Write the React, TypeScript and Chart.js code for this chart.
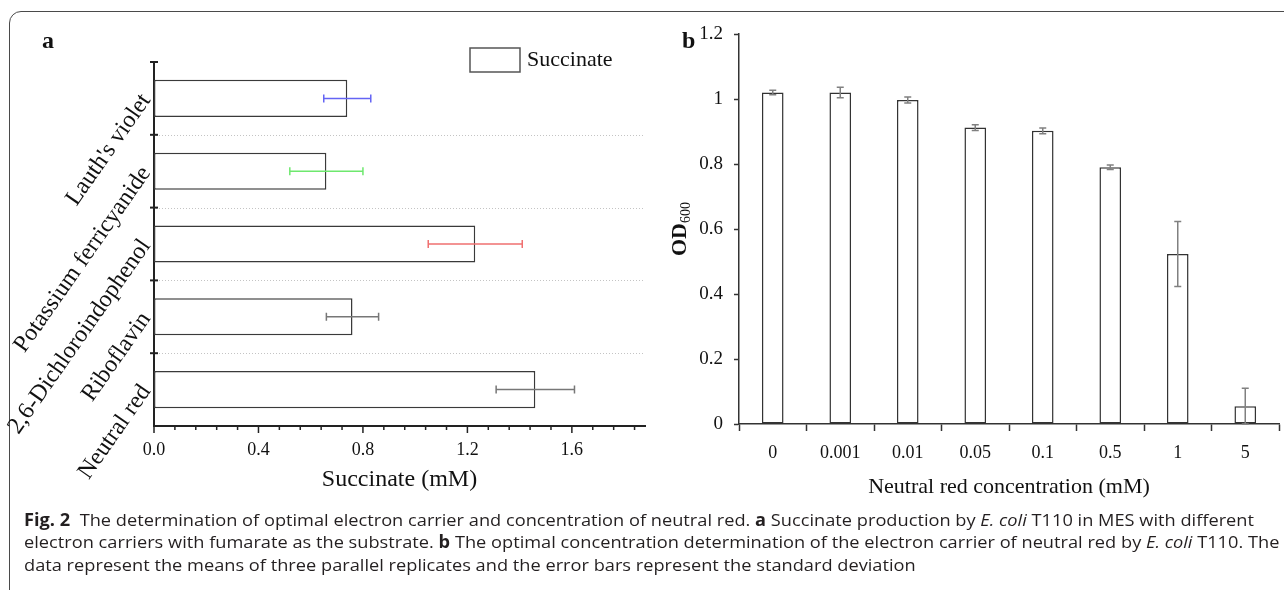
import React, { useEffect, useLayoutEffect, useRef } from 'react';
import { Chart, registerables } from 'chart.js';

Chart.register(...registerables);

// ---------- data ----------
const carriers = ["Lauth's violet", 'Potassium ferricyanide', '2,6-Dichloroindophenol', 'Riboflavin', 'Neutral red'];
const succinateMean = [0.74, 0.66, 1.23, 0.76, 1.46];
const succinateSD = [0.09, 0.14, 0.18, 0.1, 0.15];
const succinateErrColors = ['#6464f4', '#6ee86e', '#f07070', '#777777', '#777777'];
const succinateMajorStep = 0.4;
const succinateMinorStep = 0.08;
const succinateMax = 1.88;

const concentrations = ['0', '0.001', '0.01', '0.05', '0.1', '0.5', '1', '5'];
const od600Mean = [1.02, 1.02, 0.997, 0.912, 0.902, 0.79, 0.523, 0.055];
const od600SD = [0.007, 0.016, 0.009, 0.009, 0.009, 0.007, 0.1, 0.055];
const od600Max = 1.2;
const od600Step = 0.2;

const SERIF = "'Liberation Serif', 'Times New Roman', serif";
const SANS = "'Open Sans', 'Noto Sans', sans-serif";

// ---------- plugins ----------
function makeErrorBars(means: number[], sds: number[], colors: string[], cap: number, lw: number) {
  return {
    id: 'errorBars',
    afterDatasetsDraw(chart: any) {
      const meta = chart.getDatasetMeta(0);
      const ctx = chart.ctx as CanvasRenderingContext2D;
      const horizontal = chart.options.indexAxis === 'y';
      const vs = horizontal ? chart.scales.x : chart.scales.y;
      meta.data.forEach((el: any, i: number) => {
        const lo = vs.getPixelForValue(means[i] - sds[i]);
        const hi = vs.getPixelForValue(means[i] + sds[i]);
        ctx.save();
        ctx.strokeStyle = colors[i];
        ctx.lineWidth = lw;
        ctx.beginPath();
        if (horizontal) {
          const y = el.y;
          ctx.moveTo(lo, y); ctx.lineTo(hi, y);
          ctx.moveTo(lo, y - cap); ctx.lineTo(lo, y + cap);
          ctx.moveTo(hi, y - cap); ctx.lineTo(hi, y + cap);
        } else {
          const x = el.x;
          ctx.moveTo(x, lo); ctx.lineTo(x, hi);
          ctx.moveTo(x - cap, lo); ctx.lineTo(x + cap, lo);
          ctx.moveTo(x - cap, hi); ctx.lineTo(x + cap, hi);
        }
        ctx.stroke();
        ctx.restore();
      });
    },
  };
}

const panelADecor = {
  id: 'panelADecor',
  beforeDatasetsDraw(chart: any) {
    const ctx = chart.ctx as CanvasRenderingContext2D;
    const { left, right } = chart.chartArea;
    const ys = chart.scales.y;
    ctx.save();
    ctx.strokeStyle = '#c4c4c4';
    ctx.lineWidth = 1;
    ctx.setLineDash([1, 2]);
    for (let i = 1; i < carriers.length; i++) {
      const y = Math.round(ys.getPixelForValue(i - 0.5)) + 0.5;
      ctx.beginPath();
      ctx.moveTo(left + 2, y);
      ctx.lineTo(right, y);
      ctx.stroke();
    }
    ctx.restore();
  },
  afterDraw(chart: any) {
    const ctx = chart.ctx as CanvasRenderingContext2D;
    const { left, bottom } = chart.chartArea;
    const ys = chart.scales.y;
    const xs = chart.scales.x;
    ctx.save();
    // cross ticks on category axis
    ctx.strokeStyle = '#222';
    ctx.lineWidth = 2;
    for (let i = 0; i < carriers.length; i++) {
      const y = ys.getPixelForValue(i - 0.5);
      ctx.beginPath();
      ctx.moveTo(left - 4, y);
      ctx.lineTo(left + 4, y);
      ctx.stroke();
    }
    // value axis ticks
    ctx.lineWidth = 1.5;
    const nMinor = Math.floor(succinateMax / succinateMinorStep + 1e-6);
    const perMajor = Math.round(succinateMajorStep / succinateMinorStep);
    for (let k = 0; k <= nMinor; k++) {
      const x = xs.getPixelForValue(k * succinateMinorStep);
      const len = k % perMajor === 0 ? 7 : 4;
      ctx.beginPath();
      ctx.moveTo(x, bottom);
      ctx.lineTo(x, bottom + len);
      ctx.stroke();
    }
    // rotated category labels
    ctx.fillStyle = '#111';
    ctx.font = `24px ${SERIF}`;
    ctx.textAlign = 'right';
    ctx.textBaseline = 'middle';
    carriers.forEach((c, i) => {
      const y = ys.getPixelForValue(i);
      ctx.save();
      ctx.translate(left - 8, y - 2);
      ctx.rotate((-55 * Math.PI) / 180);
      ctx.fillText(c, 0, 0);
      ctx.restore();
    });
    // legend
    ctx.strokeStyle = '#555';
    ctx.lineWidth = 1.5;
    ctx.fillStyle = '#fff';
    ctx.fillRect(470, 48, 50, 24);
    ctx.strokeRect(470, 48, 50, 24);
    ctx.fillStyle = '#111';
    ctx.textAlign = 'left';
    ctx.textBaseline = 'middle';
    ctx.font = `22px ${SERIF}`;
    ctx.fillText('Succinate', 527, 60);
    // panel label
    ctx.font = `bold 24px ${SERIF}`;
    ctx.textBaseline = 'alphabetic';
    ctx.fillText('a', 42, 48);
    ctx.restore();
  },
};

const panelBDecor = {
  id: 'panelBDecor',
  afterDraw(chart: any) {
    const ctx = chart.ctx as CanvasRenderingContext2D;
    const { top, bottom } = chart.chartArea;
    ctx.save();
    ctx.fillStyle = '#111';
    ctx.font = `bold 24px ${SERIF}`;
    ctx.textAlign = 'left';
    ctx.textBaseline = 'alphabetic';
    ctx.fillText('b', 22, 48);
    // OD600 rotated title
    const cy = (top + bottom) / 2;
    ctx.translate(26, cy);
    ctx.rotate(-Math.PI / 2);
    ctx.font = `bold 22px ${SERIF}`;
    const w1 = ctx.measureText('OD').width;
    ctx.font = `14px ${SERIF}`;
    const w2 = ctx.measureText('600').width;
    const start = -(w1 + w2) / 2;
    ctx.font = `bold 22px ${SERIF}`;
    ctx.fillText('OD', start, 0);
    ctx.font = `14px ${SERIF}`;
    ctx.fillText('600', start + w1, 4);
    ctx.restore();
  },
};

// ---------- charts ----------
function PanelA() {
  const ref = useRef<HTMLCanvasElement>(null);
  useEffect(() => {
    if (!ref.current) return;
    const chart = new Chart(ref.current, {
      type: 'bar',
      data: {
        labels: carriers,
        datasets: [
          {
            label: 'Succinate',
            data: succinateMean,
            backgroundColor: '#ffffff',
            borderColor: '#3a3a3a',
            borderWidth: 1.5,
            borderSkipped: false,
            barPercentage: 0.51,
            categoryPercentage: 1,
          },
        ],
      },
      options: {
        indexAxis: 'y',
        animation: false,
        responsive: false,
        maintainAspectRatio: false,
        layout: { padding: { top: 62, right: 15, left: 0, bottom: 0 } },
        plugins: { legend: { display: false }, tooltip: { enabled: false } },
        scales: {
          x: {
            type: 'linear',
            min: 0,
            max: succinateMax,
            grid: { display: false, drawTicks: false },
            border: { display: true, color: '#222', width: 2 },
            ticks: {
              stepSize: succinateMajorStep,
              padding: 13,
              color: '#111',
              font: { family: SERIF, size: 18 },
              maxRotation: 0,
              callback: (v: any) => {
                const n = Number(v) / succinateMajorStep;
                return Math.abs(n - Math.round(n)) < 1e-6 ? Number(v).toFixed(1) : '';
              },
            },
            title: {
              display: true,
              text: 'Succinate (mM)',
              color: '#111',
              font: { family: SERIF, size: 24 },
              padding: { top: 0, bottom: 6 },
            },
            afterFit: (s: any) => { s.height = 74; },
          },
          y: {
            type: 'category',
            grid: { display: false, drawTicks: false },
            border: { display: true, color: '#222', width: 2 },
            ticks: { display: false },
            afterFit: (s: any) => { s.width = 154; },
          },
        },
      },
      plugins: [panelADecor, makeErrorBars(succinateMean, succinateSD, succinateErrColors, 4, 1.5)],
    } as any);
    return () => chart.destroy();
  }, []);
  return <canvas ref={ref} width={660} height={500} style={{ position: 'absolute', left: 0, top: 0, width: 660, height: 500 }} />;
}

function PanelB() {
  const ref = useRef<HTMLCanvasElement>(null);
  useEffect(() => {
    if (!ref.current) return;
    const chart = new Chart(ref.current, {
      type: 'bar',
      data: {
        labels: concentrations,
        datasets: [
          {
            label: 'OD600',
            data: od600Mean,
            backgroundColor: '#ffffff',
            borderColor: '#333333',
            borderWidth: 1.5,
            borderSkipped: false,
            barPercentage: 0.32,
            categoryPercentage: 1,
          },
        ],
      },
      options: {
        animation: false,
        responsive: false,
        maintainAspectRatio: false,
        layout: { padding: { top: 34, right: 5, left: 0, bottom: 0 } },
        plugins: { legend: { display: false }, tooltip: { enabled: false } },
        scales: {
          x: {
            type: 'category',
            offset: true,
            grid: { display: true, drawOnChartArea: false, drawTicks: true, tickLength: 7, tickColor: '#333', tickWidth: 1.5, offset: true },
            border: { display: true, color: '#333', width: 1.5 },
            ticks: { padding: 11, color: '#111', font: { family: SERIF, size: 18 }, maxRotation: 0, autoSkip: false },
            title: {
              display: true,
              text: 'Neutral red concentration (mM)',
              color: '#111',
              font: { family: SERIF, size: 22 },
              padding: { top: 0, bottom: 10 },
            },
            afterFit: (s: any) => { s.height = 86; },
          },
          y: {
            type: 'linear',
            min: 0,
            max: od600Max,
            grid: { display: true, drawOnChartArea: false, drawTicks: true, tickLength: 5, tickColor: '#333', tickWidth: 1.5 },
            border: { display: true, color: '#333', width: 1.5 },
            ticks: {
              stepSize: od600Step,
              padding: 11,
              color: '#111',
              font: { family: SERIF, size: 19 },
              callback: (v: any) => String(Math.round(Number(v) * 10) / 10),
            },
            afterFit: (s: any) => { s.width = 79; },
          },
        },
      },
      plugins: [panelBDecor, makeErrorBars(od600Mean, od600SD, od600Mean.map(() => '#808080'), 3.5, 1.5)],
    } as any);
    return () => chart.destroy();
  }, []);
  return <canvas ref={ref} width={624} height={510} style={{ position: 'absolute', left: 660, top: 0, width: 624, height: 510 }} />;
}

// ---------- caption ----------
const captionStyle: React.CSSProperties = {
  position: 'absolute',
  left: 24,
  whiteSpace: 'nowrap',
  display: 'inline-block',
  transformOrigin: '0 0',
  fontFamily: SANS,
  fontSize: 17,
  lineHeight: '22px',
  color: '#231f20',
};

function Caption() {
  const l1 = useRef<HTMLDivElement>(null);
  const l2 = useRef<HTMLDivElement>(null);
  const l3 = useRef<HTMLDivElement>(null);
  useLayoutEffect(() => {
    const fit = () => {
      const els = [l1.current, l2.current, l3.current];
      if (els.some((e) => !e)) return;
      els.forEach((e) => { (e as HTMLDivElement).style.transform = 'none'; });
      const w = (l1.current as HTMLDivElement).getBoundingClientRect().width;
      const s = w > 0 ? 1230 / w : 1;
      els.forEach((e) => { (e as HTMLDivElement).style.transform = `scaleX(${s})`; });
    };
    fit();
    (document as any).fonts?.ready?.then(fit);
  }, []);
  return (
    <>
      <div ref={l1} style={{ ...captionStyle, top: 509 }}>
        <b>Fig. 2</b>&nbsp;&nbsp;The determination of optimal electron carrier and concentration of neutral red. <b>a</b> Succinate production by <i>E. coli</i> T110 in MES with different
      </div>
      <div ref={l2} style={{ ...captionStyle, top: 531 }}>
        electron carriers with fumarate as the substrate. <b>b</b> The optimal concentration determination of the electron carrier of neutral red by <i>E. coli</i> T110. The
      </div>
      <div ref={l3} style={{ ...captionStyle, top: 554 }}>
        data represent the means of three parallel replicates and the error bars represent the standard deviation
      </div>
    </>
  );
}

export default function App() {
  return (
    <div style={{ position: 'fixed', left: 0, top: 0, width: 1284, height: 590, background: '#fff', overflow: 'hidden' }}>
      <div
        style={{
          position: 'absolute',
          left: 9,
          top: 11,
          width: 1300,
          height: 600,
          border: '1.5px solid #4a4a4a',
          borderRadius: '12px 0 0 12px',
          boxSizing: 'border-box',
        }}
      />
      <PanelA />
      <PanelB />
      <Caption />
    </div>
  );
}
